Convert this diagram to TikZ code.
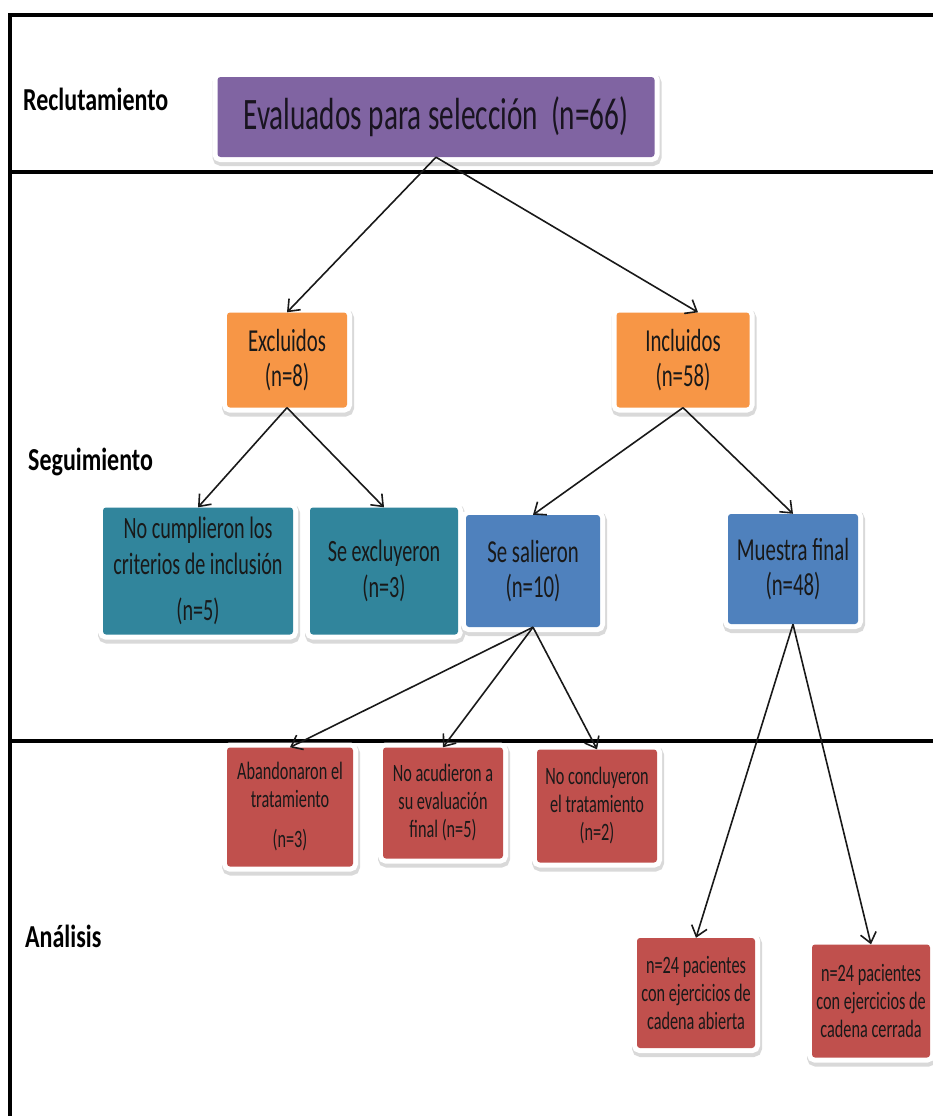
\documentclass[tikz,border=0pt]{standalone}
\usepackage{fontspec}
\setmainfont{Carlito}
\newfontfamily\angosta[FakeStretch=0.75]{Carlito}
\newfontfamily\estrecha[FakeStretch=0.65]{Carlito}
\usetikzlibrary{arrows.meta}

\definecolor{morado}{HTML}{8064A2}
\definecolor{naranja}{HTML}{F79646}
\definecolor{verdeazul}{HTML}{31859C}
\definecolor{azul}{HTML}{4F81BD}
\definecolor{rojo}{HTML}{C0504D}

\tikzset{
  caja/.style={rectangle, rounded corners=3pt, align=center, inner sep=0pt, text=black!90,
    preaction={draw=black!15, line width=12pt, transform canvas={xshift=1pt,yshift=-3pt}},
    preaction={draw=white, line width=10pt}},
  evalbox/.style={caja, fill=morado, text=black!80!morado, font=\estrecha\fontsize{45}{50}\selectfont},
  grupo/.style={caja, fill=naranja, font=\estrecha\fontsize{32}{35}\selectfont},
  salida/.style={caja, fill=verdeazul, font=\estrecha\fontsize{31}{36}\selectfont},
  rama/.style={caja, fill=azul, font=\estrecha\fontsize{32}{35}\selectfont},
  baja/.style={caja, fill=rojo, font=\estrecha\fontsize{25}{28}\selectfont},
  fase/.style={anchor=base west, inner sep=0pt, font=\angosta\bfseries\fontsize{32}{38}\selectfont},
  flecha/.style={-{Straight Barb[length=10pt,width=16pt]}, line width=1.6pt, black!90},
  raya/.style={line width=4pt, line cap=rect}
}

\begin{document}
\begin{tikzpicture}[x=1pt,y=-1pt]
    \useasboundingbox (0,0) rectangle (933,1116);
    % Frame and phase separators
    \draw[raya] (10,1116) -- (10,15) -- (933,15);
    \draw[raya] (10,172) -- (933,172);
    \draw[raya] (10,741) -- (933,741);
    % Phase names
    \node[fase] (recl) at (23,110) {Reclutamiento};
    \node[fase] (segu) at (28,470) {Seguimiento};
    \node[fase] (anal) at (25,947) {Análisis};
    % Recruitment
    \node[evalbox, minimum width=437, minimum height=80] (eval) at (436,117) {Evaluados para selección\ \ (n=66)};
    % Follow-up
    \node[grupo, minimum width=120, minimum height=95] (excl) at (287,360) {Excluidos\\(n=8)};
    \node[grupo, minimum width=133, minimum height=95] (incl) at (683,360) {Incluidos\\(n=58)};
    \node[salida, minimum width=190, minimum height=127] (nocum) at (198,571) {No cumplieron los\\criterios de inclusión\\[10pt](n=5)};
    \node[salida, minimum width=148, minimum height=127] (seexc) at (384,571) {Se excluyeron\\(n=3)};
    \node[rama, minimum width=134, minimum height=112] (sesal) at (533,571) {Se salieron\\(n=10)};
    \node[rama, minimum width=130, minimum height=110] (muest) at (793,569) {Muestra final\\(n=48)};
    % Analysis
    \node[baja, minimum width=126, minimum height=119] (aband) at (290,807) {Abandonaron el\\tratamiento\\[12pt](n=3)};
    \node[baja, minimum width=120, minimum height=111] (noacu) at (443,803) {No acudieron a\\su evaluación\\final (n=5)};
    \node[baja, minimum width=120, minimum height=113] (nocon) at (597,806) {No concluyeron\\el tratamiento\\(n=2)};
    \node[baja, minimum width=118, minimum height=110] (abier) at (696,993) {n=24 pacientes\\con ejercicios de\\cadena abierta};
    \node[baja, minimum width=118, minimum height=113] (cerra) at (871,1001) {n=24 pacientes\\con ejercicios de\\cadena cerrada};
    % Connectors
    \draw[flecha] (eval.south) -- (excl.north);
    \draw[flecha] (eval.south) -- ([xshift=15pt]incl.north);
    \draw[flecha] (excl.south) -- (nocum.north);
    \draw[flecha] (excl.south) -- (seexc.north);
    \draw[flecha] (incl.south) -- (sesal.north);
    \draw[flecha] (incl.south) -- (muest.north);
    \draw[flecha] (sesal.south) -- (aband.north);
    \draw[flecha] (sesal.south) -- (noacu.north);
    \draw[flecha] (sesal.south) -- (nocon.north);
    \draw[flecha] (muest.south) -- (abier.north);
    \draw[flecha] (muest.south) -- (cerra.north);
\end{tikzpicture}
\end{document}
